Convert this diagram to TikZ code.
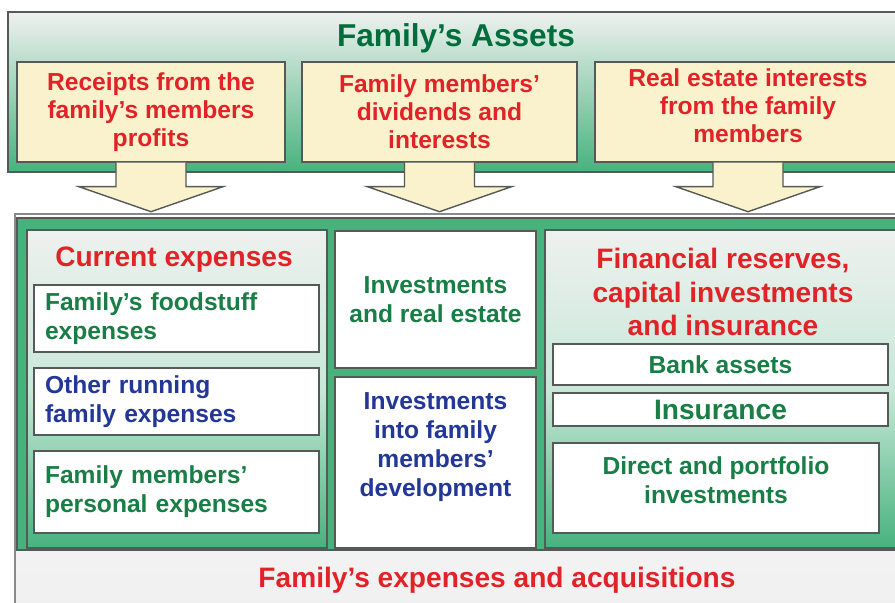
\documentclass[tikz,border=0pt]{standalone}
\usepackage{fontspec}
\setmainfont{Liberation Sans}
\usetikzlibrary{calc}

\definecolor{framegreen}{RGB}{72,178,125}
\definecolor{beige}{RGB}{250,242,205}
\definecolor{edgegray}{RGB}{85,90,88}
\definecolor{pale}{RGB}{238,241,239}
\definecolor{titlegreen}{RGB}{0,110,60}
\definecolor{txtred}{RGB}{225,35,40}
\definecolor{txtgreen}{RGB}{25,125,70}
\definecolor{txtblue}{RGB}{35,55,150}

\tikzset{
    srcbox/.style={draw=edgegray, line width=0.8pt, fill=beige, align=center,
        text=txtred, font=\bfseries\fontsize{14}{16}\selectfont},
    whitebox/.style={draw=edgegray, line width=0.8pt, fill=white},
    arrowbody/.style={draw=edgegray, line width=0.8pt, fill=beige},
    panel/.style={draw=edgegray, line width=0.8pt, top color=pale, bottom color=framegreen, middle color=framegreen!30!white},
    boxtext/.style={font=\bfseries\fontsize{14}{16.5}\selectfont, align=center},
    headtext/.style={font=\bfseries\fontsize{16}{18.5}\selectfont, align=center, text=txtred}
}

\begin{document}
\begin{tikzpicture}[x=0.02cm, y=-0.02cm]

        % Picture size
        \useasboundingbox (0,0) rectangle (895,602);
        \clip (0,0) rectangle (895,602);

        % Top panel with the sources
        \shade[top color=pale, middle color=white, bottom color=framegreen] (8,12) rectangle (910,172);
        \draw[edgegray, line width=0.8pt] (8,12) rectangle (910,172);
        \node[font=\bfseries\fontsize{18}{20}\selectfont, text=titlegreen] (assets) at (456,38) {Family’s Assets};

        \node[srcbox, minimum width=5.36cm, minimum height=2cm] (r1) at (151,112) {Receipts from the\\family’s members\\profits};
        \node[srcbox, minimum width=5.5cm, minimum height=2cm] (r2) at (439.5,112) {Family members’\\dividends and\\interests};
        \node[srcbox, minimum width=6.12cm, minimum height=2cm] (r3) at (748,112) {};
        \node[boxtext, text=txtred, font=\bfseries\fontsize{14}{16}\selectfont] (r3text) at (748,106) {Real estate interests\\from the family\\members};

        % Block arrows down
        \foreach \src in {r1,r2,r3} {
            \filldraw[arrowbody] ($(\src.south)+(-35,0)$) -- ++(0,24) -- ++(-37,0)
                -- ($(\src.south)+(0,49)$) -- ($(\src.south)+(72,24)$) -- ++(-37,0) -- ++(0,-24);
        }

        % Lower panel
        \shade[top color=white, bottom color=gray!12] (15,214) rectangle (910,620);
        \draw[edgegray!70, line width=0.8pt] (15,214) rectangle (910,620);
        \draw[edgegray, line width=0.8pt, fill=framegreen] (17,218) rectangle (910,550);
        \node[headtext] (acq) at (497,580) {Family’s expenses and acquisitions};

        % Column 1: current expenses
        \shade[panel] (27,230) rectangle (327,548);
        \draw[edgegray, line width=0.8pt] (27,230) rectangle (327,548);
        \node[headtext] (current) at (174,260) {Current expenses};
        \node[whitebox, boxtext, text=txtgreen, align=left, text width=5.26cm, inner xsep=0.22cm, minimum height=1.34cm] (food) at (176.5,318.5) {Family’s foodstuff\\expenses};
        \node[whitebox, boxtext, text=txtblue, align=left, text width=5.26cm, inner xsep=0.22cm, minimum height=1.34cm] (running) at (176.5,401.5) {Other running\\family expenses};
        \node[whitebox, boxtext, text=txtgreen, align=left, text width=5.26cm, inner xsep=0.22cm, minimum height=1.64cm] (personal) at (176.5,492) {Family members’\\personal expenses};

        % Column 2: investments
        \node[whitebox, boxtext, text=txtgreen, minimum width=4.02cm, minimum height=2.74cm] (estate) at (435.5,299.5) {Investments\\and real estate};
        \node[whitebox, minimum width=4.02cm, minimum height=3.42cm] (develop) at (435.5,462.5) {};
        \node[boxtext, text=txtblue] (developtext) at (435.5,447.5) {Investments\\into family\\members’\\development};

        % Column 3: reserves
        \shade[panel] (545,230) rectangle (910,548);
        \draw[edgegray, line width=0.8pt] (545,230) rectangle (910,548);
        \node[headtext, font=\bfseries\fontsize{16}{19}\selectfont] (reserves) at (723,292) {Financial reserves,\\capital investments\\and insurance};
        \node[whitebox, minimum width=6.7cm, minimum height=0.82cm, inner sep=0pt, boxtext, text=txtgreen] (bank) at (720.5,364.5) {Bank assets};
        \node[whitebox, minimum width=6.7cm, minimum height=0.66cm, inner sep=0pt, text=txtgreen, font=\bfseries\fontsize{16}{18}\selectfont] (insurance) at (720.5,409.5) {Insurance};
        \node[whitebox, minimum width=6.52cm, minimum height=1.8cm] (portfolio) at (716,488) {};
        \node[boxtext, text=txtgreen] (portfoliotext) at (716,480) {Direct and portfolio\\investments};

\end{tikzpicture}
\end{document}
